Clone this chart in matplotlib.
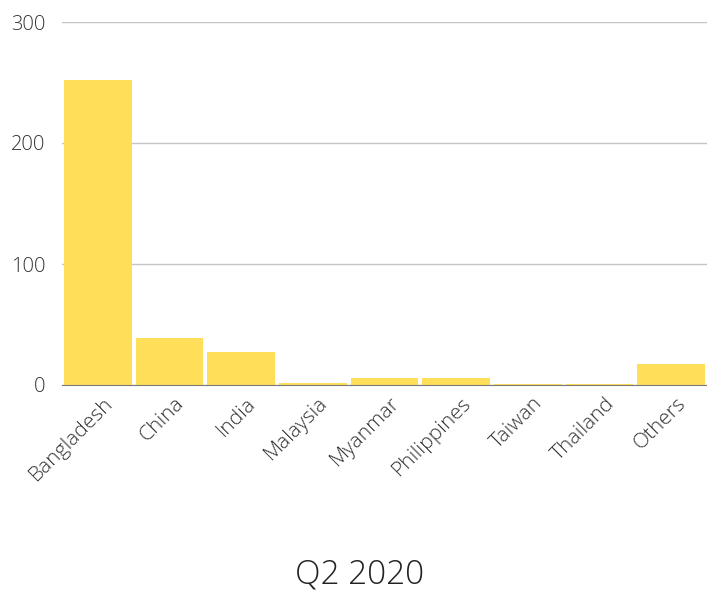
import matplotlib
matplotlib.use("Agg")
import matplotlib.pyplot as plt
from matplotlib.transforms import ScaledTranslation

countries = ["Bangladesh", "China", "India", "Malaysia", "Myanmar",
             "Philippines", "Taiwan", "Thailand", "Others"]
values = [252, 39, 27, 2, 6, 6, 1, 1, 17]
yticks = [0, 100, 200, 300]
title = "Q2 2020"

plt.rcParams['font.family'] = ['Open Sans', 'DejaVu Sans']
plt.rcParams['font.weight'] = 'light'

fig = plt.figure(figsize=(7.07, 5.94), dpi=100)
ax = fig.add_axes([62 / 707, 1 - 385 / 594, 1 - 62 / 707, (385 - 22) / 594])

x = range(len(countries))
ax.bar(x, values, width=0.94, color="#FFDE59", zorder=3)

ax.set_xlim(-0.5, len(countries) - 0.5)
ax.set_ylim(0, 300)
ax.set_yticks(yticks)
ax.set_xticks(list(x))
ax.set_xticklabels(countries, rotation=45, ha="right", rotation_mode="anchor",
                   fontsize=15)
ax.tick_params(axis="both", length=0, colors="#333333")
ax.tick_params(axis="y", labelsize=14.5, pad=12)
ax.tick_params(axis="x", pad=6)

# nudge rotated labels a little to the right
offset = ScaledTranslation(5 / 100, 0, fig.dpi_scale_trans)
for lbl in ax.get_xticklabels():
    lbl.set_transform(lbl.get_transform() + offset)

ax.grid(axis="y", color="#c4c4c4", linewidth=1, zorder=0)
for s in ["top", "right", "left"]:
    ax.spines[s].set_visible(False)
ax.spines["bottom"].set_color("#7a7a7a")
ax.spines["bottom"].set_zorder(4)

fig.text(360 / 707, 1 - 575 / 594, title, ha="center", va="center",
         fontsize=24, color="#222222")

fig.savefig("out.png", dpi=100)
